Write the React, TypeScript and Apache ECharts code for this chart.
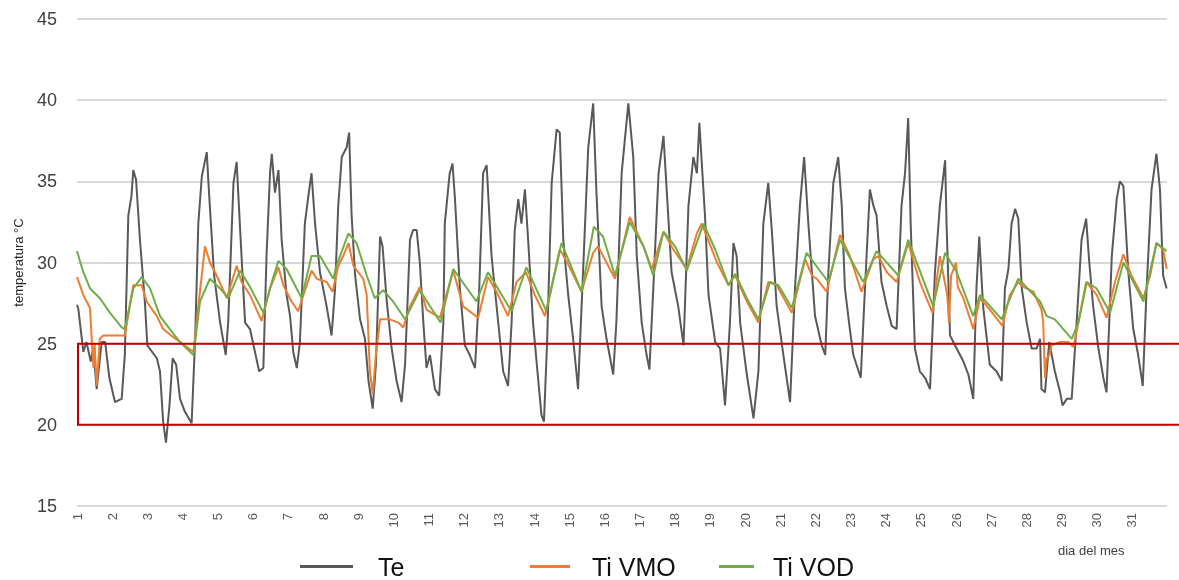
import React, { useEffect, useRef } from "react";
import * as echarts from "echarts";

// x = day of month (1 = start of day 1), y = temperature °C
const te: [number, number][] = [
  [1.00,27.4],[1.04,27.1],[1.18,24.5],[1.27,25.1],[1.39,23.9],[1.46,24.7],[1.56,22.2],[1.70,25.1],[1.80,25.1],[1.92,22.9],[2.08,21.4],[2.27,21.6],[2.36,24.3],[2.46,32.9],[2.55,34.1],[2.60,35.7],[2.68,35.1],[2.79,31.4],[2.93,27.6],[3.00,24.9],[3.27,24.1],[3.36,23.3],[3.45,20.2],[3.53,18.9],[3.63,21.2],[3.72,24.1],[3.82,23.7],[3.93,21.6],[4.07,20.8],[4.26,20.1],[4.36,25.3],[4.45,32.4],[4.55,35.3],[4.69,36.8],[4.76,34.1],[4.90,29.2],[5.07,26.3],[5.23,24.3],[5.30,26.3],[5.45,34.9],[5.54,36.2],[5.64,32.0],[5.78,26.3],[5.92,25.9],[6.18,23.3],
  [6.30,23.5],[6.39,30.4],[6.49,35.5],[6.54,36.7],[6.63,34.3],[6.73,35.7],[6.82,31.4],[6.96,28.0],[7.06,26.7],[7.15,24.5],[7.25,23.5],[7.34,25.1],[7.48,32.4],[7.58,34.1],[7.67,35.5],[7.77,32.4],[7.91,29.4],[8.10,27.3],[8.24,25.5],[8.34,28.4],[8.43,33.5],[8.53,36.5],[8.67,37.1],[8.74,38.0],[8.81,32.9],[8.91,29.2],[9.05,26.5],[9.19,25.3],[9.29,22.7],[9.41,21.0],[9.50,23.7],[9.62,31.6],[9.69,31.0],[9.81,27.6],[9.95,24.7],[10.09,22.7],[10.23,21.4],[10.33,23.7],[10.47,31.4],[10.56,32.0],[10.66,32.0],[10.75,30.0],[10.85,26.3],[10.94,23.5],[11.04,24.3],[11.18,22.2],[11.30,21.8],[11.42,26.3],
  [11.46,32.4],[11.60,35.5],[11.68,36.1],[11.75,33.9],[11.89,28.4],[12.03,24.9],[12.17,24.3],[12.32,23.5],[12.44,28.4],[12.55,35.5],[12.65,36.0],[12.79,30.4],[12.98,26.3],[13.12,23.3],[13.26,22.4],[13.36,26.3],[13.45,32.0],[13.55,33.9],[13.64,32.4],[13.74,34.5],[13.83,31.4],[13.97,26.3],[14.12,22.7],[14.21,20.6],[14.28,20.2],[14.37,25.1],[14.50,34.9],[14.64,38.2],[14.73,38.0],[14.83,31.4],[14.97,28.0],[15.11,25.3],[15.25,22.2],[15.40,29.8],[15.54,37.1],[15.68,39.8],[15.77,34.5],[15.92,27.3],[16.06,25.3],[16.25,23.1],[16.34,26.3],[16.49,35.5],[16.68,39.8],[16.82,36.5],[16.92,30.4],[17.06,26.3],[17.20,24.3],[17.28,23.4],[17.39,28.4],[17.54,35.5],[17.68,37.8],[17.77,34.5],[17.91,29.4],[18.10,27.3],[18.25,24.9],[18.39,33.5],[18.53,36.5],[18.63,35.5],[18.70,38.6],[18.77,36.1],[18.86,32.9],[18.96,28.0],[19.15,25.1],[19.29,24.7],[19.43,21.2],[19.57,26.3],[19.67,31.2],[19.76,30.4],[19.86,26.3],[20.05,23.1],[20.24,20.4],[20.38,23.3],[20.52,32.4],[20.66,34.9],[20.76,32.0],[20.90,27.3],[21.09,24.3],[21.28,21.4],[21.42,28.4],[21.56,33.5],[21.68,36.5],[21.80,32.4],[21.99,26.7],[22.18,24.9],[22.28,24.3],
  [22.37,29.4],[22.51,34.9],[22.65,36.5],[22.75,33.5],[22.84,28.4],[22.98,25.9],[23.08,24.3],[23.17,23.7],[23.29,22.9],[23.41,28.4],[23.55,34.5],[23.65,33.5],[23.74,32.9],[23.88,28.8],[24.03,27.3],[24.17,26.1],[24.31,25.9],[24.45,33.5],[24.55,35.5],[24.64,38.9],[24.71,32.4],[24.83,24.7],[24.97,23.3],[25.12,22.9],[25.26,22.2],[25.40,29.4],[25.54,33.5],[25.69,36.3],[25.73,32.4],[25.83,25.5],[25.97,24.9],[26.21,23.9],[26.35,23.1],[26.49,21.6],[26.58,28.4],[26.66,31.6],[26.77,27.3],[26.96,23.7],[27.15,23.3],[27.30,22.7],[27.39,28.4],[27.49,29.6],[27.58,32.4],[27.68,33.3],[27.77,32.7],[27.87,28.4],[28.01,26.3],[28.15,24.7],[28.29,24.7],[28.39,25.3],[28.43,22.2],[28.53,22.0],[28.65,25.1],[28.81,23.3],[28.96,22.0],[29.03,21.2],[29.15,21.6],[29.29,21.6],[29.43,26.3],[29.57,31.4],[29.70,32.7],[29.79,30.0],[29.90,27.3],[30.05,24.7],[30.19,22.9],[30.28,22.0],[30.43,30.4],[30.57,33.9],[30.66,35.0],[30.76,34.7],[30.90,29.4],[31.04,25.9],[31.18,24.3],[31.31,22.4],[31.42,28.4],[31.56,34.5],[31.70,36.7],[31.80,34.5],[31.89,29.2],[31.99,28.4],
];

const tiVMO: [number, number][] = [
  [1.00,29.1],[1.18,28.0],[1.37,27.2],[1.42,25.2],[1.47,23.5],[1.50,25.0],[1.56,22.4],[1.65,25.3],[1.75,25.5],[2.36,25.5],[2.60,28.6],[2.84,28.6],[2.98,27.6],[3.27,26.7],[3.45,25.9],[3.74,25.4],[3.93,25.1],[4.31,24.5],[4.45,27.3],[4.64,31.0],[4.78,30.0],[4.97,29.2],[5.26,27.8],[5.54,29.8],[5.68,28.8],[5.92,28.0],[6.25,26.4],[6.49,28.4],[6.73,29.7],[6.87,28.6],[7.10,27.6],[7.29,27.0],[7.44,28.0],[7.67,29.5],[7.82,29.0],[8.10,28.8],[8.27,28.2],[8.43,29.8],[8.57,30.4],[8.72,31.2],[8.86,29.8],[9.14,29.0],[9.24,28.0],[9.33,23.3],[9.41,21.9],[9.50,24.3],[9.62,26.5],[9.90,26.5],[10.14,26.3],[10.28,26.0],[10.47,27.3],[10.75,28.5],[10.94,27.1],[11.09,26.9],[11.32,26.6],[11.70,29.5],[11.98,27.3],[12.41,26.6],[12.69,29.1],[12.93,28.2],[13.26,26.7],[13.50,28.8],[13.77,29.4],[14.02,28.0],[14.31,26.7],[14.73,30.8],[14.92,30.1],[15.35,28.2],[15.68,30.6],[15.82,31.0],[16.01,30.2],[16.30,29.0],[16.72,32.8],[17.11,31.0],[17.35,29.6],[17.68,31.9],[17.96,30.8],[18.34,29.6],[18.63,31.8],[18.77,32.4],[19.20,30.0],[19.53,28.6],[19.72,29.2],[20.05,27.6],[20.38,26.3],[20.66,28.8],[20.90,28.6],[21.33,26.9],[21.71,30.2],[21.90,29.2],[22.04,29.0],[22.32,28.2],[22.70,31.7],[22.98,30.4],[23.31,28.2],[23.65,30.2],[23.79,30.4],[24.03,29.4],[24.31,28.8],[24.64,31.2],[24.97,28.8],[25.33,26.9],[25.54,30.4],[25.75,28.0],[25.80,26.3],[25.86,29.2],[26.00,30.0],[26.05,28.5],[26.21,27.8],[26.49,25.9],[26.68,27.8],[26.96,27.1],[27.32,26.1],[27.53,28.0],[27.77,28.8],[27.91,28.5],[28.20,28.2],[28.43,27.1],[28.48,26.3],[28.53,22.9],[28.58,24.1],[28.65,24.3],[28.72,24.9],[28.96,25.1],[29.19,25.1],[29.34,24.8],[29.48,26.3],[29.70,28.8],[30.00,28.0],[30.28,26.6],[30.52,28.8],[30.76,30.5],[30.99,29.2],[31.33,27.8],[31.52,29.2],[31.70,31.2],[31.89,30.8],[31.99,29.6],
];

const tiVOD: [number, number][] = [
  [1.00,30.7],[1.18,29.4],[1.37,28.4],[1.65,27.8],[1.94,26.9],[2.27,26.0],[2.36,25.9],[2.60,28.4],[2.84,29.1],[3.08,28.4],[3.36,26.7],[3.64,25.9],[3.93,25.1],[4.31,24.3],[4.50,27.6],[4.78,29.0],[5.07,28.4],[5.30,27.8],[5.64,29.5],[5.92,28.5],[6.30,26.9],[6.54,28.8],[6.73,30.1],[6.96,29.6],[7.39,27.8],[7.67,30.4],[7.91,30.4],[8.29,29.0],[8.38,29.8],[8.72,31.8],[8.95,31.2],[9.24,29.2],[9.47,27.8],[9.71,28.3],[9.99,27.6],[10.33,26.5],[10.47,27.1],[10.75,28.3],[11.04,27.3],[11.34,26.3],[11.70,29.6],[12.36,27.6],[12.69,29.4],[13.36,27.0],[13.78,29.7],[14.35,27.0],[14.78,31.2],[15.35,28.2],[15.70,32.2],[15.96,31.6],[16.30,29.2],[16.72,32.5],[17.11,31.0],[17.39,29.2],[17.68,31.9],[18.01,31.0],[18.34,29.5],[18.82,32.4],[19.15,30.8],[19.53,28.6],[19.72,29.3],[20.05,27.8],[20.38,26.5],[20.71,28.8],[20.95,28.6],[21.33,27.2],[21.75,30.6],[22.09,29.6],[22.37,28.8],[22.70,31.4],[23.36,28.8],[23.74,30.7],[24.36,29.2],[24.64,31.4],[25.35,27.3],[25.69,30.6],[26.02,29.4],[26.49,26.7],[26.68,28.0],[27.30,26.5],[27.44,27.3],[27.77,29.0],[28.39,27.6],[28.58,26.7],[28.81,26.5],[29.29,25.3],[29.48,26.3],[29.72,28.8],[30.00,28.4],[30.38,26.9],[30.76,30.0],[31.09,28.6],[31.33,27.6],[31.70,31.2],[31.99,30.7],
];

const comfortBand = { low: 20, high: 25, fromDay: 1 };
const yTicks = { min: 15, max: 45, step: 5 };
const dayRange = { min: 1, max: 32, lastLabel: 31 };

const FONT = "'Liberation Sans', Arial, sans-serif";

export default function App() {
  const ref = useRef<HTMLDivElement>(null);
  useEffect(() => {
    if (!ref.current) return;
    const chart = echarts.init(ref.current, undefined, { renderer: "svg" });
    const legendText = (gap: number) => ({ fontSize: 25, lineHeight: 25, color: "#111", fontFamily: FONT, padding: [0, 0, 0, gap] });
    const dayLabel = { type: "text", left: 1058, top: 544, style: { text: "dia del mes", fontSize: 13, fill: "#404040", fontFamily: FONT } };
    chart.setOption({
      animation: false,
      textStyle: { fontFamily: FONT },
      grid: { left: 77, right: 12, top: 19, bottom: 74, containLabel: false },
      xAxis: {
        type: "value",
        min: dayRange.min,
        max: dayRange.max,
        interval: 1,
        axisLine: { show: false },
        axisTick: { show: false },
        splitLine: { show: false },
        axisLabel: {
          rotate: 90,
          fontSize: 13,
          color: "#595959",
          margin: 7,
          formatter: (v: number) => (v <= dayRange.lastLabel ? String(v) : ""),
        },
      },
      yAxis: {
        type: "value",
        min: yTicks.min,
        max: yTicks.max,
        interval: yTicks.step,
        name: "temperatura °C",
        nameLocation: "middle",
        nameGap: 52,
        nameTextStyle: { fontSize: 13, color: "#262626", fontFamily: FONT },
        axisLine: { show: false },
        axisTick: { show: false },
        axisLabel: { fontSize: 18, color: "#404040", margin: 20 },
        splitLine: { lineStyle: { color: "#d9d9d9", width: 2 } },
      },
      legend: [
        { data: ["Te"], left: 300, top: 554, padding: 0, itemWidth: 53, itemHeight: 3, icon: "rect", textStyle: legendText(20) },
        { data: ["Ti VMO"], left: 530, top: 554, padding: 0, itemWidth: 40, itemHeight: 3, icon: "rect", textStyle: legendText(17) },
        { data: ["Ti VOD"], left: 719, top: 554, padding: 0, itemWidth: 35, itemHeight: 3, icon: "rect", textStyle: legendText(14) },
      ],
      graphic: [dayLabel],
      series: [
        { name: "Te", type: "line", data: te, showSymbol: false, lineStyle: { color: "#595959", width: 2 }, itemStyle: { color: "#595959" }, z: 2 },
        { name: "Ti VMO", type: "line", data: tiVMO, showSymbol: false, lineStyle: { color: "#ED7D31", width: 2 }, itemStyle: { color: "#ED7D31" }, z: 3 },
        { name: "Ti VOD", type: "line", data: tiVOD, showSymbol: false, lineStyle: { color: "#70AD47", width: 2 }, itemStyle: { color: "#70AD47" }, z: 4 },
      ],
    });
    const pTop = chart.convertToPixel({ gridIndex: 0 }, [comfortBand.fromDay, comfortBand.high]) as number[];
    const pBot = chart.convertToPixel({ gridIndex: 0 }, [comfortBand.fromDay, comfortBand.low]) as number[];
    chart.setOption({
      graphic: [
        dayLabel,
        {
          type: "rect",
          z: 10,
          shape: { x: pTop[0] + 1, y: pTop[1], width: 1200, height: pBot[1] - pTop[1] },
          style: { fill: "none", stroke: "#C00000", lineWidth: 2 },
        },
      ],
    });
    return () => chart.dispose();
  }, []);
  return <div ref={ref} style={{ position: "fixed", left: 0, top: 0, width: 1179, height: 580 }} />;
}
